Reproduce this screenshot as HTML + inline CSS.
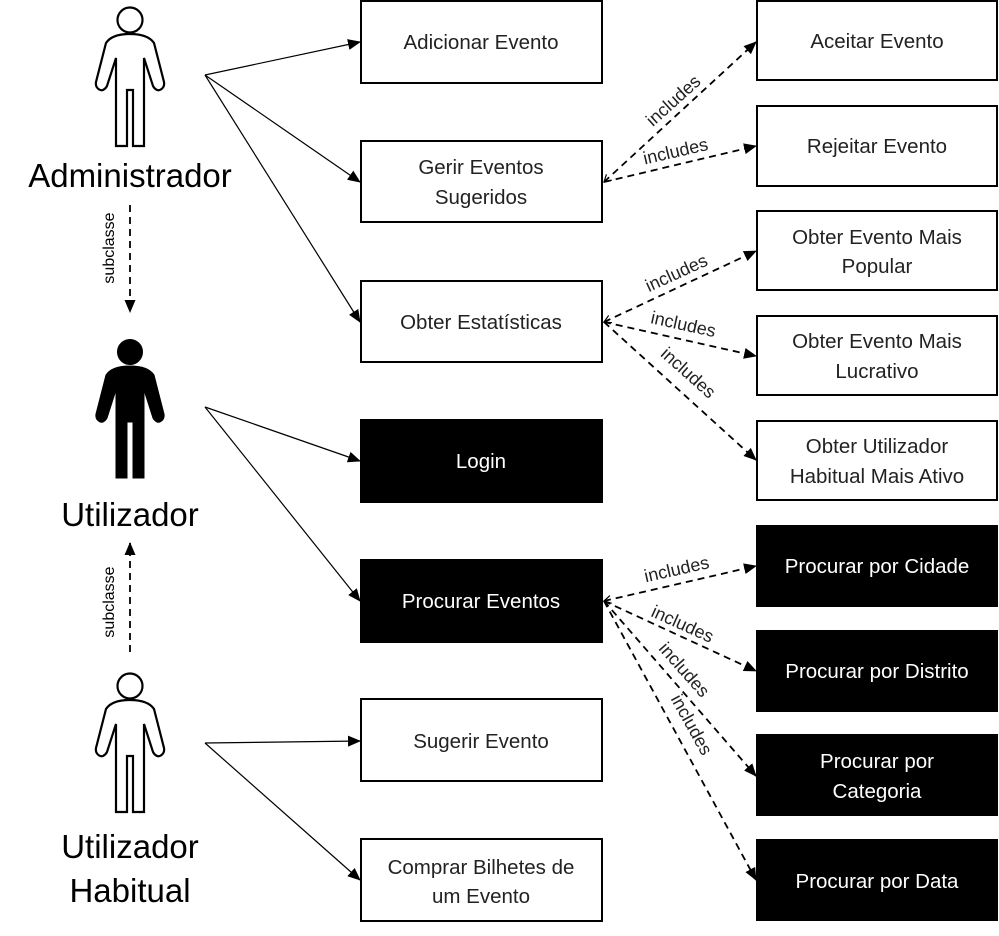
<!DOCTYPE html>
<html><head><meta charset="utf-8"><style>
html,body{margin:0;padding:0;background:#fff;width:999px;height:936px;overflow:hidden}
svg text{font-family:"Liberation Sans",sans-serif}
</style></head><body>
<svg width="999" height="936" viewBox="0 0 999 936" xmlns="http://www.w3.org/2000/svg">
<defs>
<marker id="a" markerWidth="13" markerHeight="11" refX="12" refY="5.5" orient="auto" markerUnits="userSpaceOnUse"><path d="M0,0 L13,5.5 L0,11 z" fill="#000"/></marker>
<marker id="o" markerWidth="10" markerHeight="10" refX="1" refY="5" orient="auto" markerUnits="userSpaceOnUse"><path d="M8,1 L1,5 L8,9" fill="none" stroke="#000" stroke-width="1.2"/></marker>
<g id="p">
<circle cx="0" cy="20" r="12.5"/>
<path d="M0,34 C-12,34 -20,37 -24,43 L-34,82 C-35,88 -30,91 -27,90 C-25,89 -24,88 -23,86 L-14,58 L-14,146 L-3,146 L-3,90 L3,90 L3,146 L14,146 L14,58 L23,86 C24,88 25,89 27,90 C30,91 35,88 34,82 L24,43 C20,37 12,34 0,34 Z"/>
</g>
</defs>
<g fill="#fff" stroke="#000" stroke-width="2.2"><use href="#p" x="130" y="0"/><use href="#p" x="130" y="666"/></g>
<g fill="#000" stroke="#000" stroke-width="1"><use href="#p" x="130" y="332"/></g>
<g font-size="33" text-anchor="middle" fill="#000">
<text x="130" y="187">Administrador</text>
<text x="130" y="526">Utilizador</text>
<text x="130" y="858">Utilizador</text>
<text x="130" y="902">Habitual</text>
</g>
<g stroke="#000" stroke-width="1.8" stroke-dasharray="7,5" fill="none">
<line x1="130" y1="205" x2="130" y2="312" marker-end="url(#a)"/>
<line x1="130" y1="652" x2="130" y2="543" marker-end="url(#a)"/>
</g>
<g font-size="16" fill="#000">
<text transform="translate(114,248) rotate(-90)" text-anchor="middle">subclasse</text>
<text transform="translate(114,602) rotate(-90)" text-anchor="middle">subclasse</text>
</g>
<g stroke="#000" stroke-width="1.2" fill="none">
<line x1="205" y1="75" x2="360" y2="42" marker-end="url(#a)"/>
<line x1="205" y1="75" x2="360" y2="182" marker-end="url(#a)"/>
<line x1="205" y1="75" x2="360" y2="322" marker-end="url(#a)"/>
<line x1="205" y1="407" x2="360" y2="461" marker-end="url(#a)"/>
<line x1="205" y1="407" x2="360" y2="601" marker-end="url(#a)"/>
<line x1="205" y1="743" x2="360" y2="741" marker-end="url(#a)"/>
<line x1="205" y1="743" x2="360" y2="880" marker-end="url(#a)"/>
</g>
<g stroke="#000" stroke-width="2">
<rect x="361" y="1" width="241" height="82" fill="#fff"/>
<rect x="361" y="141" width="241" height="81" fill="#fff"/>
<rect x="361" y="281" width="241" height="81" fill="#fff"/>
<rect x="361" y="420" width="241" height="82" fill="#000"/>
<rect x="361" y="560" width="241" height="82" fill="#000"/>
<rect x="361" y="699" width="241" height="82" fill="#fff"/>
<rect x="361" y="839" width="241" height="82" fill="#fff"/>
<rect x="757" y="1" width="240" height="79" fill="#fff"/>
<rect x="757" y="106" width="240" height="80" fill="#fff"/>
<rect x="757" y="211" width="240" height="79" fill="#fff"/>
<rect x="757" y="316" width="240" height="79" fill="#fff"/>
<rect x="757" y="421" width="240" height="79" fill="#fff"/>
<rect x="757" y="526" width="240" height="80" fill="#000"/>
<rect x="757" y="631" width="240" height="80" fill="#000"/>
<rect x="757" y="735" width="240" height="80" fill="#000"/>
<rect x="757" y="840" width="240" height="80" fill="#000"/>
</g>
<g font-size="20.5" text-anchor="middle" fill="#222">
<text x="481" y="49">Adicionar Evento</text>
<text x="481" y="174">Gerir Eventos</text><text x="481" y="204">Sugeridos</text>
<text x="481" y="329">Obter Estatísticas</text>
<text x="481" y="468" fill="#fff">Login</text>
<text x="481" y="608" fill="#fff">Procurar Eventos</text>
<text x="481" y="748">Sugerir Evento</text>
<text x="481" y="874">Comprar Bilhetes de</text><text x="481" y="903">um Evento</text>
<text x="877" y="48">Aceitar Evento</text>
<text x="877" y="153">Rejeitar Evento</text>
<text x="877" y="244">Obter Evento Mais</text><text x="877" y="273">Popular</text>
<text x="877" y="348">Obter Evento Mais</text><text x="877" y="378">Lucrativo</text>
<text x="877" y="453">Obter Utilizador</text><text x="877" y="483">Habitual Mais Ativo</text>
<text x="877" y="573" fill="#fff">Procurar por Cidade</text>
<text x="877" y="678" fill="#fff">Procurar por Distrito</text>
<text x="877" y="768" fill="#fff">Procurar por</text><text x="877" y="798" fill="#fff">Categoria</text>
<text x="877" y="888" fill="#fff">Procurar por Data</text>
</g>
<g stroke="#000" stroke-width="1.8" stroke-dasharray="7,5" fill="none">
<line x1="604" y1="182" x2="756" y2="42" marker-start="url(#o)" marker-end="url(#a)"/>
<line x1="604" y1="182" x2="756" y2="146" marker-end="url(#a)"/>
<line x1="604" y1="322" x2="756" y2="251" marker-start="url(#o)" marker-end="url(#a)"/>
<line x1="604" y1="322" x2="756" y2="356" marker-end="url(#a)"/>
<line x1="604" y1="322" x2="756" y2="460" marker-end="url(#a)"/>
<line x1="604" y1="601" x2="756" y2="566" marker-start="url(#o)" marker-end="url(#a)"/>
<line x1="604" y1="601" x2="756" y2="671" marker-end="url(#a)"/>
<line x1="604" y1="601" x2="756" y2="776" marker-end="url(#a)"/>
<line x1="604" y1="601" x2="756" y2="880" marker-end="url(#a)"/>
</g>
<g font-size="18" text-anchor="middle" fill="#222">
<text transform="translate(680,108) rotate(-42)" y="-4">includes</text>
<text transform="translate(678,162) rotate(-13)" y="-5">includes</text>
<text transform="translate(681,283) rotate(-24.6)" y="-5">includes</text>
<text transform="translate(681,335) rotate(12.4)" y="-5">includes</text>
<text transform="translate(681,381) rotate(41.7)" y="-5">includes</text>
<text transform="translate(679,580) rotate(-12.7)" y="-5">includes</text>
<text transform="translate(678,634) rotate(24.3)" y="-5">includes</text>
<text transform="translate(676,677) rotate(48.5)" y="-5">includes</text>
<text transform="translate(682,730) rotate(61)" y="-5">includes</text>
</g>
</svg>
</body></html>
